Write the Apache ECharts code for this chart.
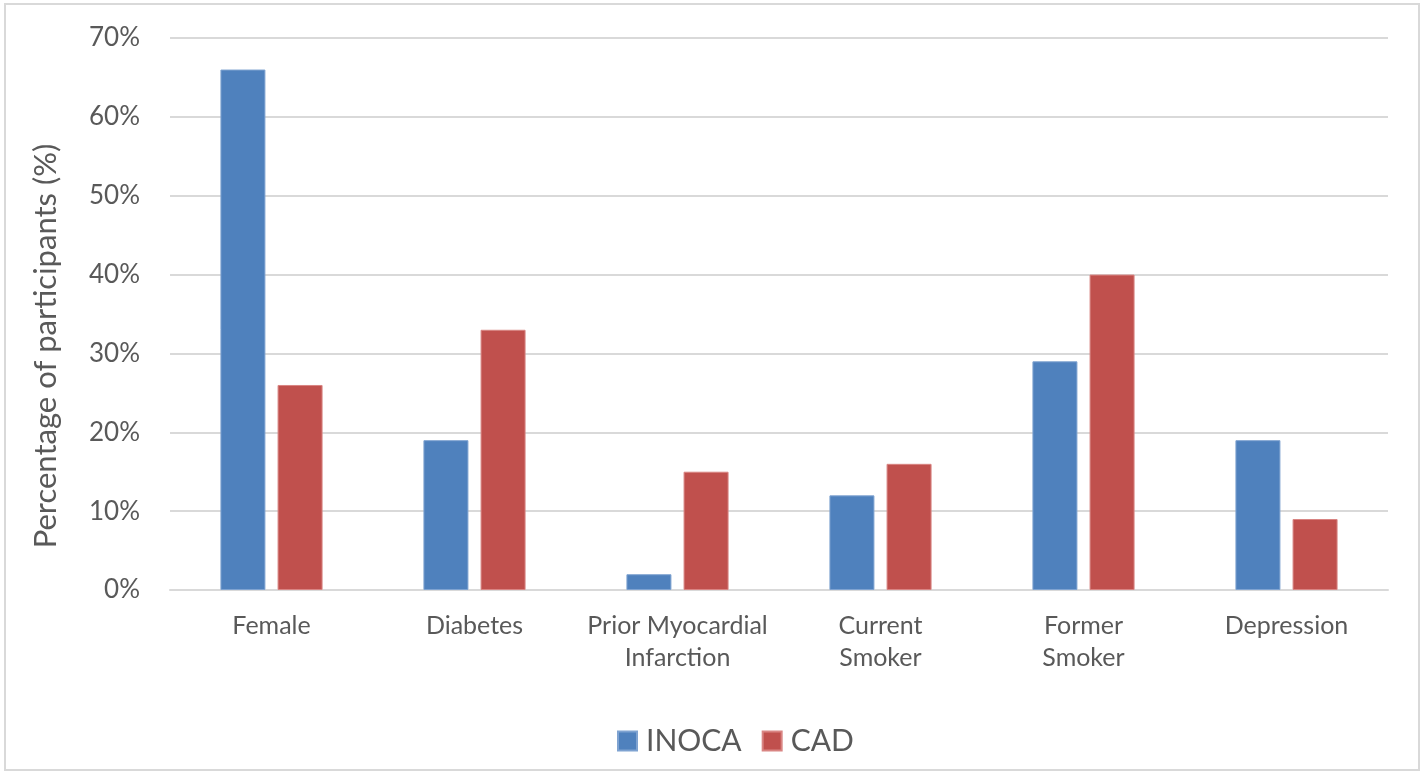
<!DOCTYPE html>
<html>
<head>
<meta charset="utf-8">
<script src="https://cdn.jsdelivr.net/npm/echarts@6/dist/echarts.min.js"></script>
<style>
html,body{margin:0;padding:0;background:#fff;}
#frame{position:absolute;left:4px;top:3px;width:1416px;height:768px;border:2px solid #D9D9D9;box-sizing:border-box;}
#chart{position:absolute;left:0;top:0;width:1427px;height:778px;}
</style>
</head>
<body>
<div id="frame"></div>
<div id="chart"></div>
<script>
const categories = ['Female', 'Diabetes', 'Prior Myocardial\nInfarction', 'Current\nSmoker', 'Former\nSmoker', 'Depression'];
const inoca = [66, 19, 2, 12, 29, 19];
const cad = [26, 33, 15, 16, 40, 9];
const yTicks = [0, 10, 20, 30, 40, 50, 60, 70];
const yTitle = 'Percentage of participants (%)';

const font = 'Lato, "Open Sans", sans-serif';
const chart = echarts.init(document.getElementById('chart'));
chart.setOption({
  animation: false,
  textStyle: {fontFamily: font},
  legend: {
    bottom: 17, left: 612,
    icon: 'rect',
    itemWidth: 19, itemHeight: 19, itemGap: 20,
    textStyle: {fontSize: 30, color: '#595959', fontFamily: font, padding: [0, 0, 0, 4]},
    data: ['INOCA', 'CAD']
  },
  graphic: [{
    type: 'text', x: 46, y: 346, rotation: Math.PI / 2,
    style: {text: yTitle, fontSize: 31, fill: '#595959', fontFamily: font,
      align: 'center', verticalAlign: 'middle'}
  }],
  grid: {left: 170, right: 39, top: 38, bottom: 188, containLabel: false},
  xAxis: {
    type: 'category', data: categories,
    axisLine: {lineStyle: {color: '#D9D9D9', width: 2}},
    axisTick: {show: false},
    axisLabel: {interval: 0, fontSize: 25, color: '#595959', margin: 20, lineHeight: 32, fontFamily: font}
  },
  yAxis: {
    type: 'value', min: 0, max: 70, interval: 10,
    axisLine: {show: false}, axisTick: {show: false},
    axisLabel: {fontSize: 26, color: '#595959', margin: 30, fontFamily: font,
      formatter: v => yTicks.includes(v) ? v + '%' : ''},
    splitLine: {lineStyle: {color: '#D9D9D9', width: 2}}
  },
  series: [
    {name: 'INOCA', type: 'bar', data: inoca, barWidth: 45, barGap: '27%',
      itemStyle: {color: '#4F81BD', borderColor: '#7FA3D1', borderWidth: 1}},
    {name: 'CAD', type: 'bar', data: cad, barWidth: 45,
      itemStyle: {color: '#C0504D', borderColor: '#D98583', borderWidth: 1}}
  ]
});
</script>
</body>
</html>
